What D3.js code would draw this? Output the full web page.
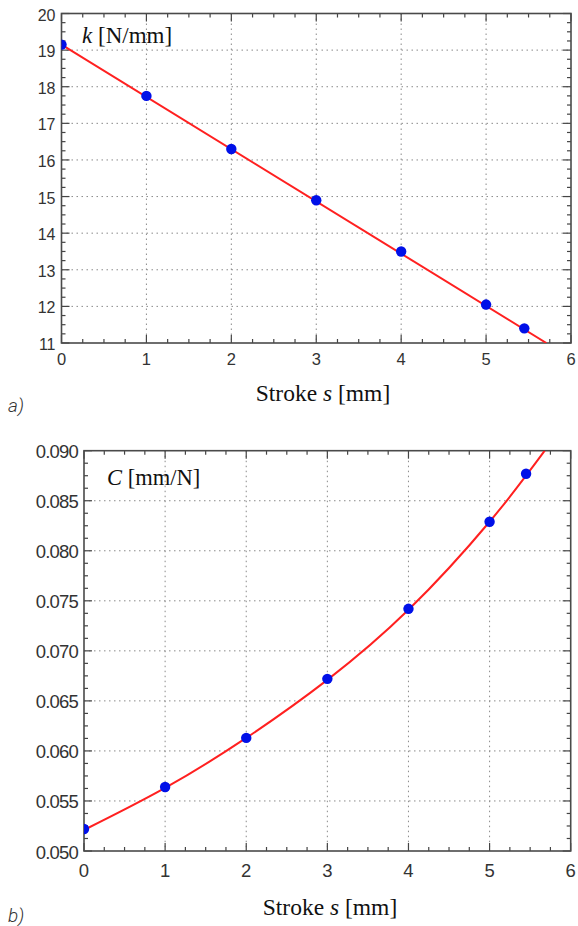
<!DOCTYPE html>
<html>
<head>
<meta charset="utf-8">
<script src="https://cdn.jsdelivr.net/npm/d3@7"></script>
<style>
  html, body { margin: 0; padding: 0; background: #fff; }
  svg { display: block; }
  .sans { font-family: "Liberation Sans", Arial, Helvetica, sans-serif; }
  .serif { font-family: "Liberation Serif", "Times New Roman", Times, serif; }
  .letter { font-family: Roboto, "Open Sans", sans-serif; }
</style>
</head>
<body>
<svg id="chart" width="578" height="926"></svg>
<script>
// ---- Data ----
const strokeS = [0, 1, 2, 3, 4, 5, 5.45];
const stiffnessK = [19.15, 17.75, 16.3, 14.9, 13.5, 12.05, 11.4];
const complianceC = [0.0522, 0.0564, 0.0613, 0.0672, 0.0742, 0.0829, 0.0877];

// fitted curves (as drawn)
const fitKS = [0, 5.71];
const fitKV = [19.15, 11.0];
const fitCS = [0, 1, 2, 3, 4, 5, 5.68];
const fitCV = [0.0521, 0.0563, 0.0613, 0.0671, 0.0741, 0.0829, 0.0900];

const xTicks = [0, 1, 2, 3, 4, 5, 6];
const kTicks = [11, 12, 13, 14, 15, 16, 17, 18, 19, 20];
const cTicks = [0.050, 0.055, 0.060, 0.065, 0.070, 0.075, 0.080, 0.085, 0.090];

const svg = d3.select("#chart");

function panel(o) {
  const g = svg.append("g");
  const x = d3.scaleLinear().domain(o.xDomain).range([o.left, o.right]);
  const y = d3.scaleLinear().domain(o.yDomain).range([o.bottom, o.top]);
  const clipId = "clip" + o.id;
  svg.append("defs").append("clipPath").attr("id", clipId)
    .append("rect").attr("x", o.left).attr("y", o.top)
    .attr("width", o.right - o.left).attr("height", o.bottom - o.top);

  // grid
  const grid = g.append("g").attr("stroke", "#8a8a8a").attr("stroke-width", 1)
    .attr("stroke-dasharray", "1.5,3.5");
  grid.selectAll("line.gx").data(o.xTicks.slice(1, -1)).join("line")
    .attr("x1", d => x(d)).attr("x2", d => x(d)).attr("y1", o.top).attr("y2", o.bottom);
  grid.selectAll("line.gy").data(o.yTicks.slice(1, -1)).join("line")
    .attr("class", "gy")
    .attr("y1", d => y(d)).attr("y2", d => y(d)).attr("x1", o.left).attr("x2", o.right);

  // ticks (inward, all four sides)
  const tk = g.append("g").attr("stroke", "#444").attr("stroke-width", 1.2);
  const xMinor = d3.range(o.xDomain[0], o.xDomain[1] + 1e-9, o.xMinorStep);
  const yMinor = d3.range(o.yDomain[0], o.yDomain[1] + 1e-9, o.yMinorStep);
  const isMajor = (v, arr) => arr.some(t => Math.abs(t - v) < 1e-9);
  xMinor.forEach(v => {
    const L = isMajor(v, o.xTicks) ? 8 : 4;
    tk.append("line").attr("x1", x(v)).attr("x2", x(v)).attr("y1", o.bottom).attr("y2", o.bottom - L);
    tk.append("line").attr("x1", x(v)).attr("x2", x(v)).attr("y1", o.top).attr("y2", o.top + L);
  });
  yMinor.forEach(v => {
    const L = isMajor(v, o.yTicks) ? 8 : 4;
    tk.append("line").attr("y1", y(v)).attr("y2", y(v)).attr("x1", o.left).attr("x2", o.left + L);
    tk.append("line").attr("y1", y(v)).attr("y2", y(v)).attr("x1", o.right).attr("x2", o.right - L);
  });

  // frame
  g.append("rect").attr("x", o.left).attr("y", o.top)
    .attr("width", o.right - o.left).attr("height", o.bottom - o.top)
    .attr("fill", "none").attr("stroke", "#4a4a4a").attr("stroke-width", 1.6);

  // tick labels
  g.append("g").selectAll("text").data(o.xTicks).join("text")
    .attr("class", "sans")
    .attr("x", d => x(d)).attr("y", o.bottom + o.xLabelDy)
    .attr("text-anchor", "middle")
    .attr("font-size", o.xTickSize).attr("fill", "#333")
    .text(d => d);
  g.append("g").selectAll("text").data(o.yTicks).join("text")
    .attr("class", "sans")
    .attr("x", o.left - 6).attr("y", d => y(d) + o.yLabelDy)
    .attr("text-anchor", "end")
    .attr("font-size", o.yTickSize).attr("fill", "#333")
    .attr("letter-spacing", o.yLetterSpacing)
    .text(o.yFormat);

  // curve + points
  const plot = g.append("g").attr("clip-path", `url(#${clipId})`);
  const line = d3.line().x(d => x(d[0])).y(d => y(d[1])).curve(o.curve);
  plot.append("path").datum(o.fitS.map((s, i) => [s, o.fitV[i]]))
    .attr("d", line).attr("fill", "none").attr("stroke", "#ff2020").attr("stroke-width", 2);
  plot.selectAll("circle").data(o.s.map((s, i) => [s, o.v[i]])).join("circle")
    .attr("cx", d => x(d[0])).attr("cy", d => y(d[1])).attr("r", 5.2)
    .attr("fill", "#0010e8");

  // in-plot label
  const lab = g.append("text").attr("class", "serif").attr("x", o.labelX).attr("y", o.labelY)
    .attr("font-size", o.labelSize).attr("fill", "#111");
  lab.append("tspan").attr("font-style", "italic").text(o.labelVar);
  lab.append("tspan").text(" " + o.labelUnit);

  // x-axis title
  const xt = g.append("text").attr("class", "serif").attr("x", o.xTitleX).attr("y", o.xTitleY)
    .attr("text-anchor", "middle")
    .attr("font-size", 23.5).attr("fill", "#111");
  xt.append("tspan").text("Stroke ");
  xt.append("tspan").attr("font-style", "italic").text("s");
  xt.append("tspan").text(" [mm]");

  // panel letter
  g.append("text").attr("class", "letter").attr("x", 8).attr("y", o.letterY)
    .attr("font-weight", 300)
    .attr("font-style", "italic").attr("font-size", 19).attr("fill", "#333")
    .text(o.letter);
}

panel({
  id: "a", left: 61.5, right: 571, top: 13.5, bottom: 343,
  xDomain: [0, 6], yDomain: [11, 20], xTicks: xTicks, yTicks: kTicks,
  xMinorStep: 0.25, yMinorStep: 0.25,
  xTickSize: 16.5, yTickSize: 16, yLetterSpacing: 0, xLabelDy: 22, yLabelDy: 7,
  yFormat: d => d,
  s: strokeS, v: stiffnessK, fitS: fitKS, fitV: fitKV, curve: d3.curveLinear,
  labelX: 82, labelY: 43, labelSize: 23, labelVar: "k", labelUnit: "[N/mm]",
  xTitleX: 323, xTitleY: 401, letter: "a)", letterY: 412
});

panel({
  id: "b", left: 84, right: 570.7, top: 450.7, bottom: 851,
  xDomain: [0, 6], yDomain: [0.050, 0.090], xTicks: xTicks, yTicks: cTicks,
  xMinorStep: 0.25, yMinorStep: 0.00125,
  xTickSize: 18.5, yTickSize: 18.5, yLetterSpacing: -0.8, xLabelDy: 25.5, yLabelDy: 7.5,
  yFormat: d3.format(".3f"),
  s: strokeS, v: complianceC, fitS: fitCS, fitV: fitCV, curve: d3.curveNatural,
  labelX: 107, labelY: 485, labelSize: 22.5, labelVar: "C", labelUnit: "[mm/N]",
  xTitleX: 330, xTitleY: 915, letter: "b)", letterY: 922
});
</script>
</body>
</html>
